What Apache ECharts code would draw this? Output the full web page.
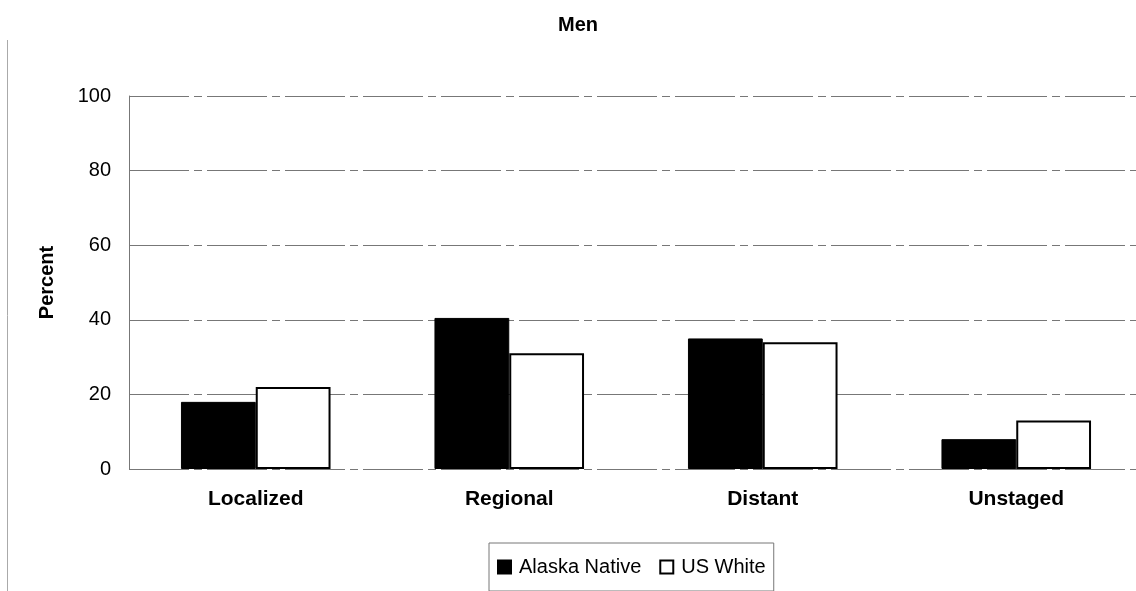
<!DOCTYPE html>
<html>
<head>
<meta charset="utf-8">
<script src="https://cdn.jsdelivr.net/npm/echarts@6/dist/echarts.min.js"></script>
<style>
html,body{margin:0;padding:0;background:#fff;}
#chart{width:1136px;height:591px;}
</style>
</head>
<body>
<div id="chart"></div>
<script>
const categories = ['Localized', 'Regional', 'Distant', 'Unstaged'];
const alaskaNative = [18, 40.5, 35, 8];
const usWhite = [22, 31, 34, 13];
const yTicks = [0, 20, 40, 60, 80, 100];

const chart = echarts.init(document.getElementById('chart'));
const font = '"Liberation Sans", Arial, sans-serif';
chart.setOption({
  backgroundColor: '#fff',
  animation: false,
  title: {
    text: 'Men',
    left: 573, top: 10, textAlign: 'center',
    textStyle: { fontFamily: font, fontSize: 20, fontWeight: 'bold', color: '#000' }
  },
  grid: { left: 129, top: 96, width: 1014, height: 373, containLabel: false, outerBoundsMode: 'none' },
  legend: {
    bottom: 0, left: 489,
    padding: [14, 8, 14, 8],
    borderColor: '#777', borderWidth: 1,
    itemWidth: 13, itemHeight: 13, itemGap: 18,
    textStyle: { fontFamily: font, fontSize: 20, color: '#000', padding: [0, 1, 0, 3] },
    data: [
      { name: 'Alaska Native', icon: 'rect' },
      { name: 'US White', icon: 'rect' }
    ]
  },
  xAxis: {
    type: 'category',
    data: categories,
    axisLine: { show: false },
    axisTick: { show: false },
    axisLabel: { fontFamily: font, fontSize: 21, fontWeight: 'bold', color: '#000', margin: 20 }
  },
  yAxis: {
    type: 'value',
    min: yTicks[0], max: yTicks[yTicks.length - 1], interval: 20,
    name: 'Percent',
    nameLocation: 'middle',
    nameGap: 72,
    nameRotate: 90,
    nameTextStyle: { fontFamily: font, fontSize: 20, fontWeight: 'bold', color: '#000' },
    axisLine: { show: true, lineStyle: { color: '#777', width: 1 } },
    axisTick: { show: false },
    axisLabel: { fontFamily: font, fontSize: 20, color: '#000', margin: 18 },
    splitLine: { show: true, lineStyle: { color: '#777', width: 1, type: [60, 5, 8, 5] } }
  },
  series: [
    {
      name: 'Alaska Native', type: 'bar', data: alaskaNative,
      barGap: '0%', barCategoryGap: '41%',
      itemStyle: { color: '#000', borderColor: '#000', borderWidth: 1 }
    },
    {
      name: 'US White', type: 'bar', data: usWhite,
      itemStyle: { color: '#fff', borderColor: '#000', borderWidth: 2 }
    }
  ],
  graphic: [
    { type: 'line', shape: { x1: 7.5, y1: 40, x2: 7.5, y2: 591 }, style: { stroke: '#aaa', lineWidth: 1 } }
  ]
});
</script>
</body>
</html>
